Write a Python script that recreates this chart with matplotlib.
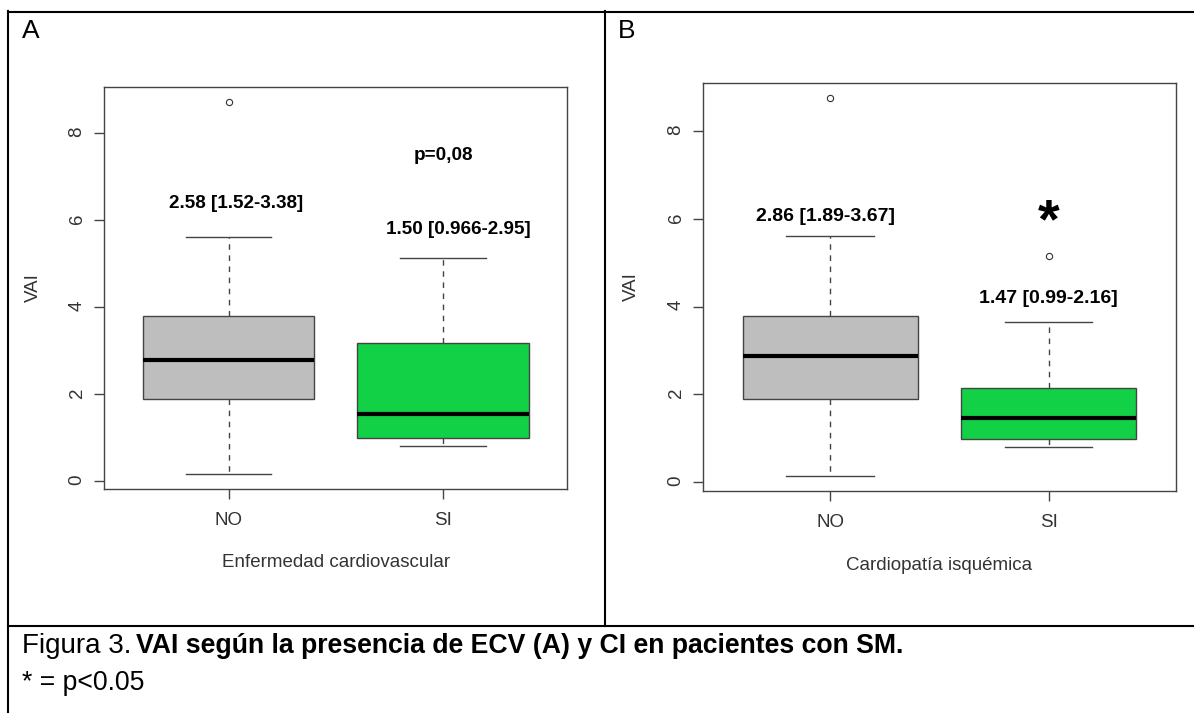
import numpy as np
import matplotlib
matplotlib.use('Agg')
from matplotlib import pyplot as plt
from matplotlib.lines import Line2D

plt.rcParams['font.family'] = ['Liberation Sans', 'DejaVu Sans']

groups = ['NO', 'SI']
box_colors = ['#bebebe', '#12d146']

# A: Enfermedad cardiovascular
a_low = [0.17, 0.81]
a_q1 = [1.89, 1.00]
a_med = [2.79, 1.54]
a_q3 = [3.80, 3.17]
a_high = [5.61, 5.14]
a_out = [[8.72], []]
a_notes = ['2.58 [1.52-3.38]', '1.50 [0.966-2.95]']
a_pval = 'p=0,08'

# B: Cardiopatia isquemica
b_low = [0.15, 0.80]
b_q1 = [1.89, 0.99]
b_med = [2.87, 1.46]
b_q3 = [3.79, 2.15]
b_high = [5.61, 3.65]
b_out = [[8.74], [5.14]]
b_notes = ['2.86 [1.89-3.67]', '1.47 [0.99-2.16]']
b_mark = '*'

W, H = 1194, 713
fig = plt.figure(figsize=(W / 100, H / 100), dpi=100)


def rect(x0, y0, x1, y1):
    return [x0 / W, 1 - y1 / H, (x1 - x0) / W, (y1 - y0) / H]


def panel(r, low, q1, med, q3, high, out, xlabel):
    ax = fig.add_axes(r)
    stats = []
    for i in range(len(groups)):
        stats.append(dict(whislo=low[i], q1=q1[i], med=med[i], q3=q3[i],
                          whishi=high[i], fliers=out[i], label=groups[i]))
    bp = ax.bxp(stats, positions=[1, 2], widths=0.8, capwidths=0.4,
                patch_artist=True,
                boxprops=dict(edgecolor='#444444', linewidth=1),
                whiskerprops=dict(color='#444444', linewidth=1, linestyle=(0, (4, 4))),
                capprops=dict(color='#444444', linewidth=1),
                medianprops=dict(color='black', linewidth=3, solid_capstyle='butt'),
                flierprops=dict(marker='o', markersize=4.5, markerfacecolor='none',
                                markeredgecolor='#333333', markeredgewidth=0.8))
    for patch, c in zip(bp['boxes'], box_colors):
        patch.set_facecolor(c)
    vals = low + high + [v for o in out for v in o]
    lo, hi = min(vals), max(vals)
    pad = 0.04 * (hi - lo)
    ax.set_ylim(lo - pad, hi + pad)
    ax.set_xlim(0.42, 2.58)
    ax.set_yticks([0, 2, 4, 6, 8])
    ax.tick_params(axis='y', labelrotation=90, length=7, width=1, color='#444444',
                   labelcolor='#333333', labelsize=13.5, pad=6.5)
    ax.tick_params(axis='x', length=7, width=1, color='#444444',
                   labelcolor='#333333', labelsize=13.5, pad=10)
    for s in ax.spines.values():
        s.set_color('#444444')
        s.set_linewidth(1)
    ax.text(-0.153, 0.5, 'VAI', transform=ax.transAxes, rotation=90,
            ha='center', va='center', fontsize=13.5, color='#333333')
    ax.text(0.5, -0.183, xlabel, transform=ax.transAxes, ha='center', va='center',
            fontsize=13.5, color='#333333')
    return ax


ax1 = panel(rect(104.3, 87.3, 567.3, 488.7), a_low, a_q1, a_med, a_q3, a_high, a_out,
            'Enfermedad cardiovascular')
ax1.text(1.035, 6.39, a_notes[0], ha='center', va='center', fontsize=13.6, fontweight='bold')
ax1.text(2.07, 5.80, a_notes[1], ha='center', va='center', fontsize=13.6, fontweight='bold')
ax1.text(2.0, 7.49, a_pval, ha='center', va='center', fontsize=13.6, fontweight='bold')

ax2 = panel(rect(703.3, 83.3, 1175.5, 490.7), b_low, b_q1, b_med, b_q3, b_high, b_out,
            'Cardiopatía isquémica')
ax2.text(0.98, 6.06, b_notes[0], ha='center', va='center', fontsize=14, fontweight='bold')
ax2.text(2.0, 4.19, b_notes[1], ha='center', va='center', fontsize=14, fontweight='bold')
ax2.text(2.0, 5.58, b_mark, ha='center', va='baseline', fontsize=40, fontweight='bold')

# table borders
def hline(y, x0, x1):
    fig.add_artist(Line2D([x0 / W, x1 / W], [1 - y / H, 1 - y / H], color='black', lw=1.5,
                          transform=fig.transFigure))


def vline(x, y0, y1):
    fig.add_artist(Line2D([x / W, x / W], [1 - y0 / H, 1 - y1 / H], color='black', lw=1.5,
                          transform=fig.transFigure))


hline(11.7, 7.5, W)
hline(625.5, 7.5, W)
vline(8.3, 11, H)
vline(604.5, 11, 625.5)

fig.text(21.5 / W, 1 - 38.3 / H, 'A', fontsize=19, va='baseline')
fig.text(618 / W, 1 - 37.5 / H, 'B', fontsize=19, va='baseline')
fig.text(21.5 / W, 1 - 653 / H, 'Figura 3.', fontsize=20, va='baseline')
fig.text(136 / W, 1 - 653 / H, 'VAI según la presencia de ECV (A) y CI en pacientes con SM.',
         fontsize=19.2, fontweight='bold', va='baseline')
fig.text(21.5 / W, 1 - 690 / H, '* = p<0.05', fontsize=19.2, va='baseline')

fig.savefig('out.png', dpi=100)
